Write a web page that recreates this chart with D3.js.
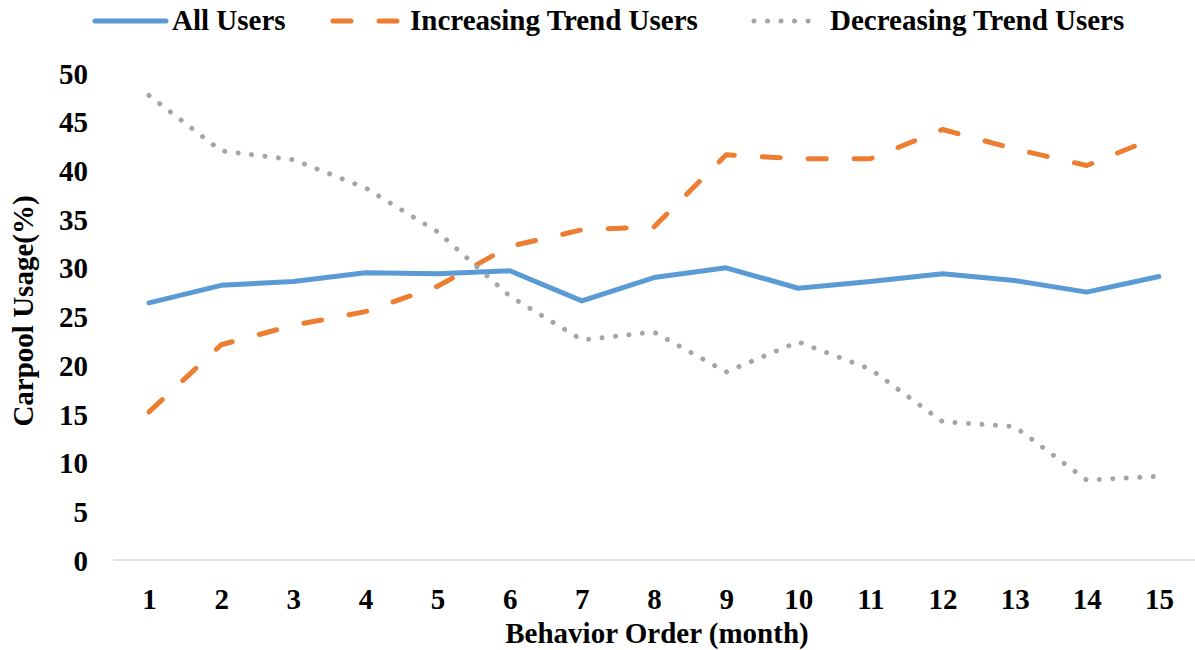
<!DOCTYPE html>
<html>
<head>
<meta charset="utf-8">
<script src="https://cdn.jsdelivr.net/npm/d3@7"></script>
<style>
  html, body { margin: 0; padding: 0; background: #fff; }
  svg { display: block; }
  text { font-family: "Liberation Serif", "Times New Roman", serif; font-weight: bold; fill: #000; }
</style>
</head>
<body>
<svg id="chart" width="1195" height="650"></svg>
<script>
const months = [1, 2, 3, 4, 5, 6, 7, 8, 9, 10, 11, 12, 13, 14, 15];
const allUsers = [26.4, 28.2, 28.6, 29.5, 29.4, 29.7, 26.6, 29.0, 30.0, 27.9, 28.6, 29.4, 28.7, 27.5, 29.1];
const increasingUsers = [15.2, 22.1, 24.1, 25.5, 28.1, 32.2, 33.9, 34.2, 41.6, 41.2, 41.2, 44.2, 42.2, 40.5, 43.5];
const decreasingUsers = [47.7, 42.0, 41.1, 38.2, 33.7, 27.1, 22.6, 23.4, 19.3, 22.4, 19.6, 14.2, 13.7, 8.2, 8.6];
const yTicks = [0, 5, 10, 15, 20, 25, 30, 35, 40, 45, 50];
const seriesNames = ["All Users", "Increasing Trend Users", "Decreasing Trend Users"];
const xTitle = "Behavior Order (month)";
const yTitle = "Carpool Usage(%)";

const svg = d3.select("#chart");
const plotLeft = 113, plotRight = 1195, plotTop = 73, plotBottom = 560;

const x = d3.scalePoint().domain(months).range([plotLeft, plotRight]).padding(0.5);
const y = d3.scaleLinear().domain([0, 50]).range([plotBottom, plotTop]);

const styles = [
  { color: "#5B9BD5", dash: null },
  { color: "#ED7D31", dash: "18,28" },
  { color: "#A5A5A5", dash: "0.01,13.5" }
];
const fontFam = '"Liberation Serif", "Times New Roman", serif';

// x axis
const xAxis = svg.append("g").attr("transform", `translate(0,${plotBottom})`)
  .call(d3.axisBottom(x).tickSize(0).tickPadding(28));
xAxis.select(".domain").attr("stroke", "#D9D9D9").attr("stroke-width", 1.5)
  .attr("d", `M${plotLeft},0H${plotRight}`);
xAxis.selectAll("text").style("font-size", "29px").attr("dy", "0.71em").attr("y", 28)
  .style("font-family", fontFam).style("font-weight", "bold").attr("fill", "#000");

// y axis
const yAxis = svg.append("g").attr("transform", `translate(${plotLeft},0)`)
  .call(d3.axisLeft(y).tickValues(yTicks).tickSize(0).tickPadding(25));
yAxis.select(".domain").remove();
yAxis.selectAll("text").style("font-size", "29px").attr("dy", "0.35em")
  .style("font-family", fontFam).style("font-weight", "bold").attr("fill", "#000");

// lines
const data = [allUsers, increasingUsers, decreasingUsers];
const line = d3.line().x((d, i) => x(months[i])).y(d => y(d));
data.forEach((vals, k) => {
  const p = svg.append("path").datum(vals)
    .attr("d", line)
    .attr("fill", "none")
    .attr("stroke", styles[k].color)
    .attr("stroke-width", 5)
    .attr("stroke-linecap", "round")
    .attr("stroke-linejoin", "round");
  if (styles[k].dash) p.attr("stroke-dasharray", styles[k].dash);
});

// legend
const legendPos = [
  { lx: 95, tx: 172 },
  { lx: 333, tx: 410 },
  { lx: 752, tx: 830 }
];
const legendY = 21;
seriesNames.forEach((name, k) => {
  const lp = legendPos[k];
  const l = svg.append("line")
    .attr("x1", lp.lx).attr("x2", lp.tx - 6)
    .attr("y1", legendY).attr("y2", legendY)
    .attr("stroke", styles[k].color)
    .attr("stroke-width", 5)
    .attr("stroke-linecap", "round");
  if (k === 1) l.attr("stroke-dasharray", "18,28");
  if (k === 2) l.attr("stroke-dasharray", "0.01,13.5").attr("x1", lp.lx + 2).attr("x2", lp.tx - 20);
  svg.append("text").attr("x", lp.tx).attr("y", 30).style("font-size", "29px").text(name);
});

// axis titles
svg.append("text").attr("x", 657).attr("y", 643)
  .attr("text-anchor", "middle").style("font-size", "29px").text(xTitle);
svg.append("text").attr("transform", `translate(33,311) rotate(-90)`)
  .attr("text-anchor", "middle").style("font-size", "29px").text(yTitle);
</script>
</body>
</html>
